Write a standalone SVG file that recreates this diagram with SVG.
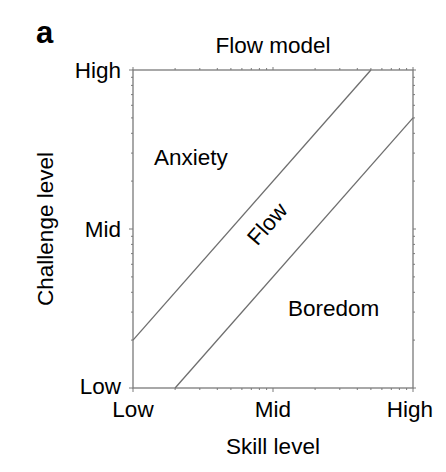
<svg xmlns="http://www.w3.org/2000/svg" width="446" height="472" viewBox="0 0 446 472">
<style>
.t{font-family:"Liberation Sans",Arial,sans-serif;font-size:22.5px;fill:#000}
.ax{fill:none;stroke:#7a7a7a;stroke-width:1.3}
.tk{fill:none;stroke:#7a7a7a;stroke-width:1}
.ln{fill:none;stroke:#6e6e6e;stroke-width:1.3}
</style>
<rect width="446" height="472" fill="#fff"/>
<text x="36" y="43" style="font-family:'Liberation Sans',Arial,sans-serif;font-size:31px;font-weight:bold">a</text>
<text class="t" x="273" y="53" text-anchor="middle">Flow model</text>
<g id="axes">
<rect class="ax" x="133" y="70" width="280" height="318"/>
<path class="tk" d="M133,70h-4M133,229h-4M133,388h-4M413,70h3M413,229h3M413,388h3M133,388v4M273,388v4M413,388v4M133,70v-3M273,70v-3M413,70v-3"/>
<path class="tk" d="M175.1,388v2M199.8,388v2M217.3,388v2M230.9,388v2M241.9,388v2M251.3,388v2M259.4,388v2M266.6,388v2M315.1,388v2M339.8,388v2M357.3,388v2M370.9,388v2M381.9,388v2M391.3,388v2M399.4,388v2M406.6,388v2
M175.1,70v-2M199.8,70v-2M217.3,70v-2M230.9,70v-2M241.9,70v-2M251.3,70v-2M259.4,70v-2M266.6,70v-2M315.1,70v-2M339.8,70v-2M357.3,70v-2M370.9,70v-2M381.9,70v-2M391.3,70v-2M399.4,70v-2M406.6,70v-2
M133,340.1h-2M133,312.1h-2M133,292.3h-2M133,276.9h-2M133,264.3h-2M133,253.6h-2M133,244.4h-2M133,236.3h-2M133,181.1h-2M133,153.1h-2M133,133.3h-2M133,117.9h-2M133,105.3h-2M133,94.6h-2M133,85.4h-2M133,77.3h-2
M413,340.1h2M413,312.1h2M413,292.3h2M413,276.9h2M413,264.3h2M413,253.6h2M413,244.4h2M413,236.3h2M413,181.1h2M413,153.1h2M413,133.3h2M413,117.9h2M413,105.3h2M413,94.6h2M413,85.4h2M413,77.3h2"/>
</g>
<g id="labels">
<text class="t" x="121" y="78" text-anchor="end">High</text>
<text class="t" x="121" y="237" text-anchor="end">Mid</text>
<text class="t" x="121" y="394" text-anchor="end">Low</text>
<text class="t" x="133" y="417" text-anchor="middle">Low</text>
<text class="t" x="273" y="417" text-anchor="middle">Mid</text>
<text class="t" x="410" y="417" text-anchor="middle">High</text>
<text class="t" x="273" y="454" text-anchor="middle">Skill level</text>
<text class="t" text-anchor="middle" transform="translate(53,229) rotate(-90)">Challenge level</text>
</g>
<g id="connectors">
<line class="ln" x1="133" y1="340.1" x2="370.9" y2="70"/>
<line class="ln" x1="175.1" y1="388" x2="413" y2="117.9"/>
</g>
<g id="anxiety"><text class="t" x="154" y="165">Anxiety</text></g>
<g id="boredom"><text class="t" x="288" y="316">Boredom</text></g>
<g id="flow"><text class="t" text-anchor="middle" transform="translate(273,229) rotate(-48.6)">Flow</text></g>
</svg>
